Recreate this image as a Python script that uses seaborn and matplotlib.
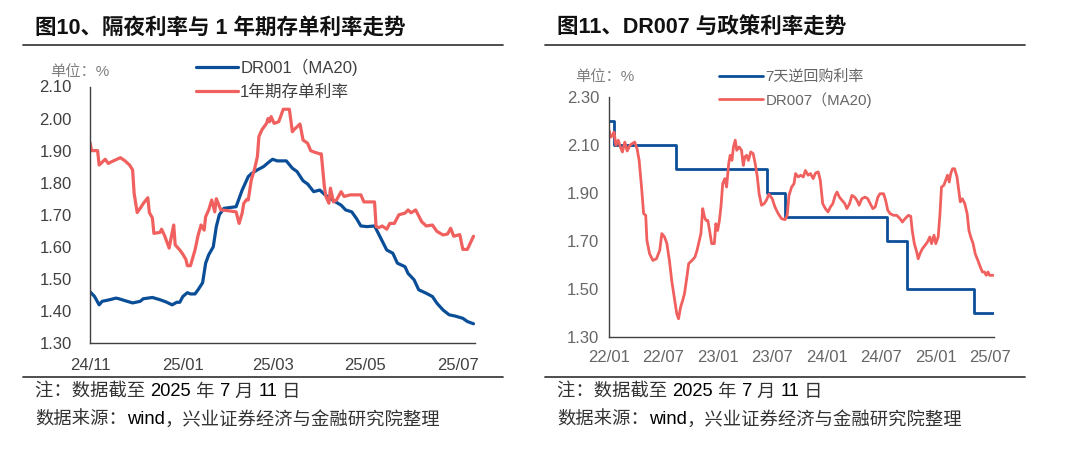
import matplotlib
matplotlib.use("Agg")
import matplotlib.pyplot as plt
import matplotlib.dates as mdates
import matplotlib.lines as mlines
import pandas as pd
import seaborn as sns

# ---------------- data: left panel ----------------
dr001_dates = ["2024-11-01", "2024-11-04", "2024-11-07", "2024-11-09", "2024-11-14", "2024-11-18",
               "2024-11-20", "2024-11-24", "2024-11-29", "2024-12-04", "2024-12-06", "2024-12-12",
               "2024-12-17", "2024-12-21", "2024-12-25", "2024-12-28", "2024-12-30", "2025-01-01",
               "2025-01-04", "2025-01-06", "2025-01-09", "2025-01-11", "2025-01-14", "2025-01-16",
               "2025-01-18", "2025-01-21", "2025-01-23", "2025-01-25", "2025-01-28", "2025-02-05",
               "2025-02-07", "2025-02-09", "2025-02-13", "2025-02-15", "2025-02-19", "2025-02-23",
               "2025-02-27", "2025-03-01", "2025-03-04", "2025-03-07", "2025-03-10", "2025-03-14",
               "2025-03-17", "2025-03-21", "2025-03-24", "2025-03-28", "2025-04-01", "2025-04-04",
               "2025-04-06", "2025-04-11", "2025-04-15", "2025-04-18", "2025-04-22", "2025-04-25",
               "2025-04-28", "2025-05-02", "2025-05-07", "2025-05-10", "2025-05-15", "2025-05-19",
               "2025-05-22", "2025-05-27", "2025-05-29", "2025-06-02", "2025-06-05", "2025-06-10",
               "2025-06-14", "2025-06-17", "2025-06-21", "2025-06-25", "2025-06-29", "2025-07-04",
               "2025-07-07", "2025-07-11"]
dr001_vals = [1.460, 1.445, 1.419, 1.430, 1.435, 1.440, 1.438, 1.432, 1.425, 1.430, 1.438, 1.442,
              1.435, 1.428, 1.419, 1.427, 1.427, 1.445, 1.457, 1.453, 1.453, 1.466, 1.488, 1.549,
              1.575, 1.600, 1.663, 1.700, 1.720, 1.725, 1.751, 1.777, 1.819, 1.828, 1.840, 1.850,
              1.866, 1.873, 1.868, 1.868, 1.868, 1.845, 1.835, 1.806, 1.796, 1.772, 1.777, 1.764,
              1.757, 1.741, 1.730, 1.715, 1.709, 1.689, 1.665, 1.663, 1.665, 1.637, 1.590, 1.580,
              1.549, 1.538, 1.517, 1.497, 1.466, 1.455, 1.445, 1.424, 1.403, 1.388, 1.384, 1.377,
              1.367, 1.360]

cd_dates = ["2024-11-01", "2024-11-02", "2024-11-06", "2024-11-07", "2024-11-11", "2024-11-13",
            "2024-11-15", "2024-11-21", "2024-11-24", "2024-11-27", "2024-11-29", "2024-11-30",
            "2024-12-02", "2024-12-04", "2024-12-06", "2024-12-09", "2024-12-10", "2024-12-12",
            "2024-12-13", "2024-12-17", "2024-12-18", "2024-12-20", "2024-12-23", "2024-12-25",
            "2024-12-26", "2024-12-27", "2024-12-30", "2025-01-01", "2025-01-03", "2025-01-04",
            "2025-01-06", "2025-01-09", "2025-01-11", "2025-01-13", "2025-01-15", "2025-01-16",
            "2025-01-18", "2025-01-20", "2025-01-22", "2025-01-23", "2025-01-26", "2025-01-30",
            "2025-02-05", "2025-02-07", "2025-02-09", "2025-02-10", "2025-02-12", "2025-02-13",
            "2025-02-15", "2025-02-17", "2025-02-19", "2025-02-20", "2025-02-22", "2025-02-25",
            "2025-02-26", "2025-02-27", "2025-02-28", "2025-03-02", "2025-03-05", "2025-03-08",
            "2025-03-12", "2025-03-14", "2025-03-15", "2025-03-19", "2025-03-21", "2025-03-24",
            "2025-03-26", "2025-03-28", "2025-04-01", "2025-04-02", "2025-04-04", "2025-04-05",
            "2025-04-07", "2025-04-08", "2025-04-10", "2025-04-12", "2025-04-15", "2025-04-17",
            "2025-04-21", "2025-04-28", "2025-04-30", "2025-05-07", "2025-05-08", "2025-05-10",
            "2025-05-12", "2025-05-15", "2025-05-17", "2025-05-20", "2025-05-23", "2025-05-27",
            "2025-05-29", "2025-05-31", "2025-06-03", "2025-06-07", "2025-06-10", "2025-06-14",
            "2025-06-17", "2025-06-21", "2025-06-24", "2025-06-26", "2025-06-28", "2025-07-02",
            "2025-07-04", "2025-07-07", "2025-07-11"]
cd_vals = [1.925, 1.900, 1.900, 1.855, 1.873, 1.860, 1.865, 1.878, 1.868, 1.855, 1.840, 1.767,
           1.707, 1.720, 1.735, 1.753, 1.707, 1.690, 1.642, 1.645, 1.655, 1.635, 1.596, 1.645,
           1.668, 1.606, 1.590, 1.577, 1.561, 1.541, 1.541, 1.590, 1.635, 1.668, 1.652, 1.694,
           1.715, 1.746, 1.709, 1.750, 1.715, 1.713, 1.709, 1.673, 1.705, 1.735, 1.748, 1.746,
           1.809, 1.840, 1.881, 1.944, 1.965, 1.985, 2.000, 1.990, 2.006, 1.985, 1.990, 2.029,
           2.029, 1.959, 1.965, 1.983, 1.933, 1.923, 1.900, 1.896, 1.890, 1.890, 1.788, 1.757,
           1.736, 1.783, 1.740, 1.746, 1.772, 1.757, 1.762, 1.762, 1.740, 1.740, 1.663, 1.660,
           1.665, 1.655, 1.673, 1.673, 1.700, 1.705, 1.715, 1.706, 1.715, 1.678, 1.665, 1.668,
           1.648, 1.637, 1.640, 1.658, 1.633, 1.638, 1.592, 1.592, 1.633]

# ---------------- data: right panel ----------------
policy_dates = ["2022-01-01", "2022-01-17", "2022-08-15", "2023-06-13", "2023-08-15",
                "2024-07-22", "2024-09-27", "2025-05-08", "2025-07-11"]
policy_vals = [2.20, 2.10, 2.00, 1.90, 1.80, 1.70, 1.50, 1.40, 1.40]

dr007_dates = ["2022-01-01", "2022-01-07", "2022-01-13", "2022-01-18", "2022-01-24", "2022-02-01",
               "2022-02-08", "2022-02-15", "2022-02-23", "2022-03-03", "2022-03-12", "2022-03-20",
               "2022-03-28", "2022-04-05", "2022-04-12", "2022-04-20", "2022-04-27", "2022-05-04",
               "2022-05-08", "2022-05-17", "2022-05-28", "2022-06-09", "2022-06-20", "2022-06-27",
               "2022-07-06", "2022-07-14", "2022-07-23", "2022-07-30", "2022-08-09", "2022-08-16",
               "2022-08-22", "2022-08-29", "2022-09-05", "2022-09-11", "2022-09-19", "2022-09-25",
               "2022-10-06", "2022-10-16", "2022-10-23", "2022-10-31", "2022-11-05", "2022-11-11",
               "2022-11-17", "2022-11-22", "2022-11-28", "2022-12-03", "2022-12-11", "2022-12-20",
               "2022-12-25", "2022-12-31", "2023-01-06", "2023-01-11", "2023-01-17", "2023-01-24",
               "2023-01-30", "2023-02-06", "2023-02-11", "2023-02-17", "2023-02-22", "2023-02-28",
               "2023-03-05", "2023-03-13", "2023-03-21", "2023-03-27", "2023-04-01", "2023-04-07",
               "2023-04-13", "2023-04-21", "2023-04-29", "2023-05-06", "2023-05-13", "2023-05-19",
               "2023-05-27", "2023-06-05", "2023-06-12", "2023-06-21", "2023-07-02", "2023-07-11",
               "2023-07-22", "2023-08-02", "2023-08-14", "2023-08-21", "2023-08-27", "2023-09-05",
               "2023-09-13", "2023-09-18", "2023-09-27", "2023-10-05", "2023-10-14", "2023-10-21",
               "2023-10-30", "2023-11-07", "2023-11-16", "2023-11-24", "2023-12-03", "2023-12-10",
               "2023-12-18", "2023-12-27", "2024-01-05", "2024-01-13", "2024-01-21", "2024-01-29",
               "2024-02-04", "2024-02-12", "2024-02-21", "2024-03-01", "2024-03-08", "2024-03-17",
               "2024-03-25", "2024-04-03", "2024-04-11", "2024-04-18", "2024-04-27", "2024-05-08",
               "2024-05-17", "2024-05-25", "2024-06-03", "2024-06-11", "2024-06-20", "2024-06-27",
               "2024-07-09", "2024-07-16", "2024-07-23", "2024-07-31", "2024-08-11", "2024-08-22",
               "2024-09-02", "2024-09-10", "2024-09-19", "2024-09-30", "2024-10-08", "2024-10-13",
               "2024-10-20", "2024-10-28", "2024-11-02", "2024-11-08", "2024-11-16", "2024-11-25",
               "2024-12-03", "2024-12-11", "2024-12-17", "2024-12-25", "2024-12-31", "2025-01-08",
               "2025-01-14", "2025-01-19", "2025-01-27", "2025-02-02", "2025-02-08", "2025-02-14",
               "2025-02-19", "2025-02-25", "2025-03-04", "2025-03-12", "2025-03-18", "2025-03-23",
               "2025-03-30", "2025-04-07", "2025-04-15", "2025-04-21", "2025-04-27", "2025-05-05",
               "2025-05-12", "2025-05-21", "2025-05-29", "2025-06-05", "2025-06-12", "2025-06-18",
               "2025-06-24", "2025-06-29", "2025-07-11"]
dr007_vals = [2.161, 2.133, 2.140, 2.154, 2.099, 2.120, 2.092, 2.071, 2.112, 2.075, 2.099, 2.106,
              2.112, 2.085, 2.036, 1.925, 1.814, 1.807, 1.703, 1.647, 1.619, 1.626, 1.661, 1.731,
              1.717, 1.689, 1.613, 1.536, 1.453, 1.397, 1.376, 1.425, 1.453, 1.481, 1.550, 1.606,
              1.619, 1.633, 1.661, 1.703, 1.731, 1.835, 1.800, 1.786, 1.786, 1.751, 1.689, 1.689,
              1.772, 1.744, 1.786, 1.842, 1.939, 1.960, 1.925, 2.022, 2.057, 2.036, 2.092, 2.120,
              2.078, 2.092, 2.078, 2.015, 2.050, 2.057, 2.036, 2.071, 2.064, 2.022, 1.967, 1.897,
              1.849, 1.856, 1.869, 1.895, 1.876, 1.842, 1.814, 1.793, 1.789, 1.807, 1.890, 1.925,
              1.939, 1.981, 1.967, 1.974, 1.967, 1.994, 1.974, 1.981, 1.960, 1.983, 1.988, 1.953,
              1.856, 1.835, 1.821, 1.842, 1.856, 1.890, 1.904, 1.883, 1.869, 1.856, 1.835, 1.856,
              1.890, 1.883, 1.869, 1.849, 1.876, 1.883, 1.876, 1.856, 1.835, 1.842, 1.883, 1.897,
              1.897, 1.869, 1.828, 1.814, 1.807, 1.807, 1.793, 1.779, 1.793, 1.807, 1.803, 1.744,
              1.689, 1.654, 1.626, 1.647, 1.668, 1.682, 1.696, 1.717, 1.689, 1.724, 1.689, 1.717,
              1.814, 1.925, 1.932, 1.953, 1.974, 1.946, 1.981, 2.001, 2.001, 1.967, 1.911, 1.863,
              1.876, 1.856, 1.814, 1.744, 1.717, 1.689, 1.647, 1.619, 1.592, 1.571, 1.571, 1.557,
              1.571, 1.557, 1.557]

left_yticks = [1.30, 1.40, 1.50, 1.60, 1.70, 1.80, 1.90, 2.00, 2.10]
left_xticks = ["2024-11-01", "2025-01-01", "2025-03-01", "2025-05-01", "2025-07-01"]
right_yticks = [1.30, 1.50, 1.70, 1.90, 2.10, 2.30]
right_xticks = ["2022-01-01", "2022-07-01", "2023-01-01", "2023-07-01", "2024-01-01",
                "2024-07-01", "2025-01-01", "2025-07-01"]

title_left = "图10、隔夜利率与 1 年期存单利率走势"
title_right = "图11、DR007 与政策利率走势"
legend_left = ["DR001（MA20)", "1年期存单利率"]
legend_right = ["7天逆回购利率", "DR007（MA20)"]
unit_text = "单位：%"
# (text, is_latin) pieces of the two footnote lines
note_parts = [("注：数据截至 ", False), ("2025", True), (" 年 ", False), ("7", True),
              (" 月 ", False), ("11", True), (" 日", False)]
source_parts = [("数据来源：", False), ("wind", True), ("，兴业证券经济与金融研究院整理", False)]

BLUE = "#0B4E98"
RED = "#F0605E"

sns.set_theme(style="white")
plt.rcParams["font.family"] = ["Liberation Sans", "Noto Sans CJK SC", "DejaVu Sans"]
plt.rcParams["axes.unicode_minus"] = False

W, H = 1080, 449
fig = plt.figure(figsize=(W / 100, H / 100), dpi=100)


def fx(px):
    return px / W


def fy(py):
    return 1 - py / H


df_l1 = pd.DataFrame({"date": pd.to_datetime(dr001_dates), "v": dr001_vals})
df_l2 = pd.DataFrame({"date": pd.to_datetime(cd_dates), "v": cd_vals})
df_r1 = pd.DataFrame({"date": pd.to_datetime(policy_dates), "v": policy_vals})
df_r2 = pd.DataFrame({"date": pd.to_datetime(dr007_dates), "v": dr007_vals})

# ---- left axes ----
axL = fig.add_axes([fx(90), fy(343), fx(385), (343 - 86.5) / H])
sns.lineplot(data=df_l1, x="date", y="v", ax=axL, color=BLUE, lw=2.3, legend=False)
sns.lineplot(data=df_l2, x="date", y="v", ax=axL, color=RED, lw=2.3, legend=False)
axL.set_xlim(pd.Timestamp("2024-11-01"), pd.Timestamp("2025-07-12"))
axL.set_ylim(1.30, 2.10)
axL.set_yticks(left_yticks)
axL.set_yticklabels([f"{v:.2f}" for v in left_yticks])
axL.set_xticks(pd.to_datetime(left_xticks))
axL.xaxis.set_major_formatter(mdates.DateFormatter("%y/%m"))

# ---- right axes ----
axR = fig.add_axes([fx(609), fy(337), fx(385), 240 / H])
sns.lineplot(data=df_r1, x="date", y="v", ax=axR, color=BLUE, lw=2.0, drawstyle="steps-post",
             legend=False)
sns.lineplot(data=df_r2, x="date", y="v", ax=axR, color=RED, lw=2.0, legend=False)
axR.set_xlim(pd.Timestamp("2022-01-01"), pd.Timestamp("2025-07-14"))
axR.set_ylim(1.30, 2.30)
axR.set_yticks(right_yticks)
axR.set_yticklabels([f"{v:.2f}" for v in right_yticks])
axR.set_xticks(pd.to_datetime(right_xticks))
axR.xaxis.set_major_formatter(mdates.DateFormatter("%y/%m"))

for ax, tcol in ((axL, "#404040"), (axR, "#666666")):
    ax.set_xlabel("")
    ax.set_ylabel("")
    for s in ("top", "right"):
        ax.spines[s].set_visible(False)
    for s in ("left", "bottom"):
        ax.spines[s].set_color("#404040")
        ax.spines[s].set_linewidth(1.0)
    ax.tick_params(axis="both", which="major", direction="out", length=4, width=1.0,
                   color="#404040", labelsize=12, labelcolor=tcol, pad=3)
    ax.tick_params(axis="x", pad=5)
    ax.grid(False)
    ax.patch.set_alpha(0)

axL.tick_params(axis="x", pad=7)
axL.tick_params(axis="y", pad=9)

# legends
hl = [mlines.Line2D([], [], color=BLUE, lw=2.3), mlines.Line2D([], [], color=RED, lw=2.3)]
axL.legend(hl, legend_left, loc="upper left", bbox_to_anchor=(fx(196), fy(59)),
           bbox_transform=fig.transFigure, frameon=False, borderpad=0, borderaxespad=0,
           handlelength=2.5, handletextpad=0.15, labelspacing=0.5, fontsize=12,
           labelcolor="#404040")
hr = [mlines.Line2D([], [], color=BLUE, lw=2.0), mlines.Line2D([], [], color=RED, lw=2.0)]
axR.legend(hr, legend_right, loc="upper left", bbox_to_anchor=(fx(719), fy(70)),
           bbox_transform=fig.transFigure, frameon=False, borderpad=0, borderaxespad=0,
           handlelength=2.9, handletextpad=0.2, labelspacing=0.5, fontsize=10.8,
           labelcolor="#666666")

# unit labels
fig.text(fx(80), fy(72), unit_text, ha="center", va="center", fontsize=11, color="#808080")
fig.text(fx(605), fy(77), unit_text, ha="center", va="center", fontsize=11, color="#808080")

# titles
fig.text(fx(35), fy(28), title_left, ha="left", va="center", fontsize=15.5,
         fontweight="bold", color="#111111")
fig.text(fx(557), fy(28), title_right, ha="left", va="center", fontsize=15.5,
         fontweight="bold", color="#111111")

# rules
for (x0, x1) in ((23, 503), (545, 1025)):
    for yy in (45, 377):
        fig.add_artist(mlines.Line2D([fx(x0), fx(x1)], [fy(yy), fy(yy)],
                                     transform=fig.transFigure, color="#404040", lw=1.3))

# footnotes, laid out piece by piece (latin pieces in black, CJK in dark grey)
FS_NOTE = 13.2
rows = []
for x0 in (35, 557):
    for parts, yy in ((note_parts, 392), (source_parts, 420)):
        row = []
        for txt, latin in parts:
            t = fig.text(fx(x0), fy(yy), txt, ha="left", va="center", fontsize=FS_NOTE,
                         color="#000000" if latin else "#333333")
            row.append(t)
        rows.append((x0, yy, row))

fig.canvas.draw()
renderer = fig.canvas.get_renderer()
for x0, yy, row in rows:
    cursor = fx(x0)
    for t in row:
        t.set_position((cursor, fy(yy)))
        cursor += t.get_window_extent(renderer=renderer).width / W

fig.savefig("out.png", dpi=100, facecolor="white")
